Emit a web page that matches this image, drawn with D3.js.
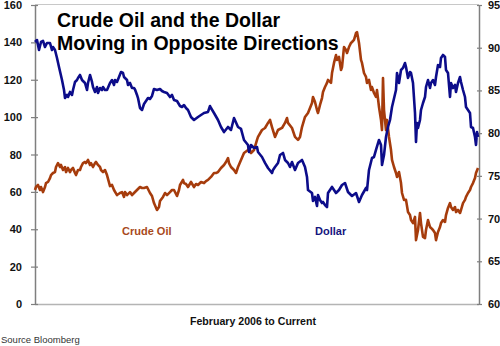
<!DOCTYPE html>
<html>
<head>
<meta charset="utf-8">
<script src="https://cdn.jsdelivr.net/npm/d3@7"></script>
<style>
  html, body { margin: 0; padding: 0; background: #fff; }
  svg { display: block; font-family: "Liberation Sans", Arial, sans-serif; }
</style>
</head>
<body>
<svg id="chart" width="500" height="346"></svg>
<script>
// Weeks since February 2006 and the matching crude oil price (USD / barrel)
const oilWeeks = [0,0.4,1.2,2,2.4,3.2,4,4.4,5.2,6,6.4,7.2,8,8.4,9.2,10,10.4,11.2,12,12.4,13.2,14,14.4,15.2,16,16.4,17.2,18,18.4,19.2,20,20.4,21.2,22,22.4,23.2,24,24.4,25.2,26,26.4,27.2,28,28.8,30,30.8,31.6,32.8,34,34.8,35.6,36,36.8,38,38.8,39.6,40.8,42,42.8,43.6,44.8,46,46.8,47.6,48.8,49.6,50,51.2,52,52.8,54,54.8,55.6,56.8,57.6,58,59.2,59.6,60.4,61.2,62.4,63.6,64.4,65.2,66.4,67.6,68.4,69.2,70.4,71.6,72.4,73.2,74.4,75.6,76.4,77.2,77.6,78.4,79.6,80.4,81.2,82.4,83.6,85.2,85.6,86.4,87.6,88.8,89.2,90.8,92,93.2,94,94.8,96,97.2,98.8,100,100.8,101.2,102.8,104,105.2,106,106.8,108,109.2,110.8,111.2,112,112.8,113.2,114,114.8,115.2,116,116.8,117.2,118.4,118.8,119.6,120.4,120.8,121.6,122.4,122.8,123.6,124.4,124.8,125.6,126.4,126.8,127.6,128.4,128.8,129.6,130.4,130.8,131.6,132.4,132.8,133.6,134.4,134.8,135.6,136.4,136.8,137.6,138.4,138.8,139.2,139.6,140.4,140.8,141.6,142.4,142.8,143.6,144.4,144.8,145.6,146.4,146.8,147.6,148.4,149.2,150,150.4,151.2,152,152.4,153.2,154,154.4,155.2,156,156.4,157.2,158,158.4,159.2,160,160.4,161.2,162,162.4,163.2,164,164.4,165.2,166,166.4,167.2,168,168.4,169.2,170,170.4,171.2,172,172.4,173.2,174,174.4,175.2,176,176.4,177.2];
const oilPrices = [61.0,62.6,63.7,61.0,62.6,59.9,62.6,64.7,65.3,67.4,69.0,70.1,70.6,73.3,75.4,73.3,74.4,71.7,73.3,70.6,72.8,70.6,71.7,72.8,70.1,69.0,71.7,71.7,73.3,75.4,76.0,75.4,77.1,74.4,75.4,73.3,75.4,76.0,74.4,73.3,71.7,70.6,71.7,69.0,63.1,63.7,61.0,58.3,59.4,59.9,57.3,59.9,58.3,59.9,58.3,59.4,61.0,62.6,62.1,62.1,62.6,59.4,57.8,54.0,50.3,51.9,55.1,57.3,59.4,58.3,59.9,61.0,61.0,57.8,61.0,63.7,66.4,64.7,64.2,62.6,65.3,62.6,64.2,63.7,65.3,64.7,65.8,66.4,68.0,70.1,70.1,70.6,72.8,74.4,76.0,78.1,75.4,73.3,71.7,70.1,73.3,77.1,80.8,82.4,83.5,80.8,82.4,87.8,89.4,93.1,94.2,96.9,98.5,94.7,89.4,93.1,94.2,96.9,99.5,96.9,94.2,89.4,87.8,89.4,94.7,100.1,102.2,107.6,110.8,108.1,103.8,102.2,106.5,110.2,113.4,116.1,118.3,119.9,118.3,123.6,129.0,133.2,130.6,132.2,125.2,126.8,137.5,135.9,134.3,137.5,139.7,140.2,141.3,145.0,145.5,139.7,130.6,129.0,123.6,121.5,118.3,119.9,114.5,116.1,112.9,110.8,114.5,105.4,98.5,93.1,120.9,103.8,93.1,98.5,89.4,82.4,77.1,73.3,70.1,68.0,70.6,64.7,59.4,55.7,55.7,49.2,47.6,44.9,43.3,46.6,34.2,39.6,48.7,43.3,35.9,35.3,39.6,44.9,41.2,40.7,39.6,38.0,34.2,38.5,41.2,43.3,44.9,43.9,47.6,51.4,54.0,51.9,50.3,51.9,49.2,50.3,48.7,50.3,54.0,55.7,57.3,59.4,61.0,62.6,64.7,67.4,70.1,72.8];

// Weeks since February 2006 and the matching US dollar index
const dollarWeeks = [0,0.8,1.6,2.4,3.2,4,4.8,6,6.8,7.2,8,8.8,9.6,10.8,11.6,12,12.8,13.2,14,14.8,15.2,16,16.8,17.2,18,18.8,20,20.8,21.2,22,22.8,23.2,24,24.8,25.2,26,26.8,27.2,28,28.8,30,30.8,31.6,32,32.8,33.6,34.4,35.2,35.6,36.8,37.2,38,38.8,39.6,40,40.8,41.2,42,42.8,43.6,44.4,45.2,46,46.8,47.6,48.8,50,50.8,51.6,52.8,54,54.8,55.6,56.8,58,58.8,59.6,60.4,61.2,62.4,63.6,65.2,66.4,67.6,69.2,70,70.4,71.6,73.2,74.4,75.6,77.2,78.4,79.6,81.2,82.4,83.6,85.2,85.6,86.4,87.6,88.8,89.2,90.8,92,93.2,94.8,95.2,96,97.2,98,99.2,100,101.2,102,102.8,104,105.2,106.8,108,108.8,109.2,110.8,111.2,112,112.8,113.2,114,114.8,115.2,116,116.8,117.2,118,118.8,120.4,121.6,122.8,124,125.2,126.8,128.4,129.6,130.8,132.4,132.8,133.6,134.8,135.6,136.4,137.6,138.4,138.8,139.6,140.4,141.2,142,142.8,144.4,144.8,145.6,146.4,147.2,148,148.4,149.2,150,150.4,151.2,152,152.4,152.8,153.2,154,154.4,155.2,156,156.4,157.2,158,158.4,159.2,160,160.4,161.2,162,162.4,163.2,164,164.4,165.2,166,166.4,167.2,168,168.4,169.2,170,170.4,171.2,172,172.4,173.2,174,174.4,175.2,176,176.4,176.8,177.2];
const dollarIndex = [90.67,90.90,89.73,90.67,90.79,90.08,90.55,90.55,89.73,90.08,89.73,88.80,87.74,86.22,85.05,84.11,84.47,84.23,84.82,84.47,85.05,85.99,86.22,86.46,86.81,86.22,85.87,85.05,85.87,86.81,85.99,85.40,84.82,85.40,84.70,85.28,85.05,85.40,85.05,85.05,85.87,86.22,85.64,86.22,85.99,86.57,87.16,87.04,86.57,86.22,85.64,85.87,85.28,85.28,85.10,84.47,84.11,82.94,82.71,83.41,83.76,84.11,84.00,84.35,85.17,85.05,85.17,84.93,84.82,84.70,84.23,84.47,83.88,83.76,83.18,83.06,83.29,82.94,82.71,81.89,81.54,81.89,82.12,82.36,82.48,83.18,82.94,82.36,81.54,80.72,80.13,80.72,80.37,81.77,80.72,80.49,79.20,78.61,77.79,78.61,78.26,78.38,77.79,77.21,76.51,75.92,75.33,75.69,76.04,76.51,77.44,77.68,76.86,76.51,76.04,76.62,75.69,76.51,76.86,76.04,74.87,73.34,72.99,72.06,72.53,71.47,72.76,72.17,71.82,71.94,71.59,71.35,72.99,73.34,73.70,72.99,73.34,73.93,74.16,73.11,72.64,72.99,71.94,72.76,73.58,73.34,75.69,77.09,77.21,78.03,79.20,78.61,76.27,77.44,79.55,80.72,81.54,83.06,85.05,87.04,85.87,87.39,87.63,88.21,87.74,86.46,87.16,87.04,85.87,82.36,78.96,81.19,80.60,81.54,82.71,83.53,84.23,85.40,86.22,85.28,85.87,86.22,85.64,86.57,87.98,87.74,88.80,89.15,88.91,87.39,87.04,84.23,85.87,85.28,85.64,84.82,85.87,86.57,85.99,85.05,84.23,83.06,82.71,82.36,80.72,80.60,79.55,78.61,80.13,79.55];

const leftTicks = [0, 20, 40, 60, 80, 100, 120, 140, 160];
const rightTicks = [60, 65, 70, 75, 80, 85, 90, 95];

const titleLines = ["Crude Oil and the Dollar", "Moving in Opposite Directions"];
const xAxisTitle = "February 2006 to Current";
const sourceNote = "Source Bloomberg";

const OIL_COLOR = "#a63c0c";
const USD_COLOR = "#0c0c8a";

const svg = d3.select("#chart");
const plot = { left: 35, right: 479, top: 5, bottom: 304 };

const x = d3.scaleLinear().domain([0, 177.6]).range([plot.left, plot.right]);
const yOil = d3.scaleLinear().domain([0, 160]).range([plot.bottom, plot.top]);
const yUsd = d3.scaleLinear().domain([60, 95]).range([plot.bottom, plot.top]);

// plot frame: light top and bottom rules
svg.append("line").attr("x1", plot.left).attr("x2", plot.right)
  .attr("y1", plot.top - 0.5).attr("y2", plot.top - 0.5)
  .attr("stroke", "#c8c8c8").attr("stroke-width", 1);
svg.append("line").attr("x1", plot.left).attr("x2", plot.right)
  .attr("y1", plot.bottom + 0.5).attr("y2", plot.bottom + 0.5)
  .attr("stroke", "#b4b4b4").attr("stroke-width", 1.5);

// left axis (oil)
const leftAxis = svg.append("g")
  .attr("transform", `translate(${plot.left},0)`)
  .call(d3.axisLeft(yOil).tickValues(leftTicks).tickSizeInner(4).tickSizeOuter(0).tickPadding(9));
// right axis (dollar)
const rightAxis = svg.append("g")
  .attr("transform", `translate(${plot.right},0)`)
  .call(d3.axisRight(yUsd).tickValues(rightTicks).tickSizeInner(3).tickSizeOuter(0).tickPadding(6));

[leftAxis, rightAxis].forEach(g => {
  g.select(".domain").attr("stroke", "#7f7f7f").attr("stroke-width", 1.5);
  g.selectAll(".tick line").attr("stroke", "#7f7f7f").attr("stroke-width", 1.2);
  g.selectAll(".tick text")
    .attr("fill", "#111")
    .style("font-family", "'Liberation Sans', Arial, sans-serif")
    .style("font-size", "11px")
    .style("font-weight", "bold");
});
// ticks cross the axis line slightly
leftAxis.selectAll(".tick line").attr("x2", -4).attr("x1", 3);
rightAxis.selectAll(".tick line").attr("x1", -2).attr("x2", 3);

const oilData = oilWeeks.map((w, i) => ({ w, v: oilPrices[i] }));
const usdData = dollarWeeks.map((w, i) => ({ w, v: dollarIndex[i] }));

svg.append("path").datum(oilData)
  .attr("fill", "none").attr("stroke", OIL_COLOR).attr("stroke-width", 2.6)
  .attr("stroke-linejoin", "round")
  .attr("d", d3.line().x(d => x(d.w)).y(d => yOil(d.v)));

svg.append("path").datum(usdData)
  .attr("fill", "none").attr("stroke", USD_COLOR).attr("stroke-width", 2.6)
  .attr("stroke-linejoin", "round")
  .attr("d", d3.line().x(d => x(d.w)).y(d => yUsd(d.v)));

// title
svg.append("text")
  .attr("x", 57).attr("y", 27)
  .attr("fill", "#000")
  .style("font-size", "19.5px").style("font-weight", "bold")
  .selectAll("tspan").data(titleLines).join("tspan")
  .attr("x", 57).attr("dy", (d, i) => i === 0 ? 0 : 22.5)
  .text(d => d);

// series labels
svg.append("text").attr("x", 122).attr("y", 235)
  .attr("fill", "#a84a1c")
  .style("font-size", "11px").style("font-weight", "bold")
  .text("Crude Oil");
svg.append("text").attr("x", 315).attr("y", 235)
  .attr("fill", "#15157e")
  .style("font-size", "11px").style("font-weight", "bold")
  .text("Dollar");

// axis title and source
svg.append("text").attr("x", 253).attr("y", 325)
  .attr("text-anchor", "middle").attr("fill", "#111")
  .style("font-size", "10.6px").style("font-weight", "bold")
  .text(xAxisTitle);
svg.append("text").attr("x", 1).attr("y", 343)
  .attr("fill", "#333")
  .style("font-size", "9.5px")
  .text(sourceNote);
</script>
</body>
</html>
